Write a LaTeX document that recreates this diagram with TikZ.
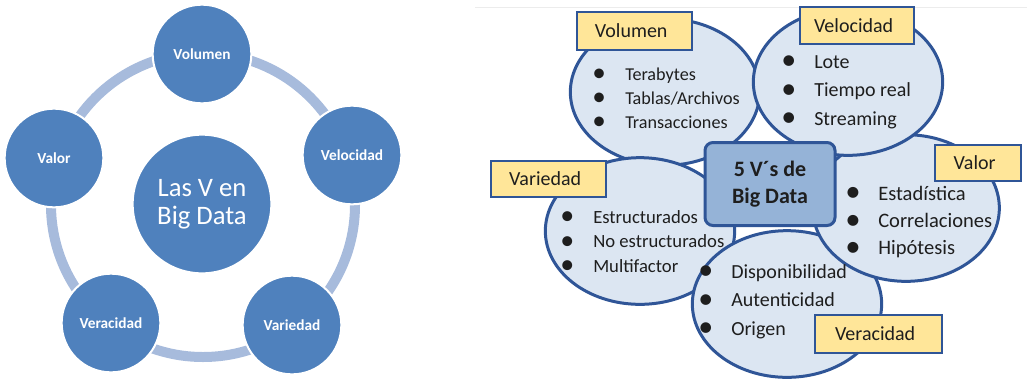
\documentclass[tikz,border=0pt]{standalone}
\usepackage{fontspec}
\setmainfont{Carlito}
\usepackage{graphicx}
\usepackage{tikz}
\usetikzlibrary{shapes,positioning}
\definecolor{vazul}{RGB}{79,129,189}
\definecolor{vanillo}{RGB}{167,187,220}
\definecolor{vborde}{RGB}{47,85,151}
\definecolor{vclaro}{RGB}{220,230,242}
\definecolor{vmedio}{RGB}{149,179,215}
\definecolor{vamarillo}{RGB}{255,230,153}
\definecolor{vtexto}{RGB}{30,30,30}
\tikzstyle{anillo} = [draw=vanillo, line width=7.5pt]
\tikzstyle{vcirculo} = [circle, minimum size=74pt, inner sep=0pt, fill=vazul, draw=white, line width=1.5pt, text=white, font=\bfseries\fontsize{11.5}{13}\selectfont]
\tikzstyle{vcentro} = [vcirculo, minimum size=104pt, align=center, font=\fontsize{20}{21}\selectfont]
\tikzstyle{burbuja} = [ellipse, minimum width=142pt, minimum height=110pt, inner sep=0pt, fill=vclaro, draw=vborde, line width=2.25pt]
\tikzstyle{caja} = [rectangle, rounded corners=6pt, minimum width=97.5pt, minimum height=62.25pt, align=center, fill=vmedio, draw=vborde, line width=2.25pt, text=vtexto, font=\bfseries\fontsize{16.5}{20}\selectfont]
\tikzstyle{etiqueta} = [rectangle, minimum height=27.75pt, inner sep=0pt, fill=vamarillo, draw=vborde, line width=1.5pt, text=vtexto, font=\fontsize{15}{17}\selectfont, execute at end node={\hspace*{5pt}}]
\tikzstyle{lista} = [anchor=base west, inner sep=0pt, text=vtexto]
\newcommand{\vineta}{\makebox[24.75pt][l]{\raisebox{-0.2ex}{\scalebox{1.5}{\textbullet}}}}

\begin{document}
\begin{tikzpicture}[x=0.75pt, y=-0.75pt]
\useasboundingbox (0,0) rectangle (1027,379);
% Ciclo de la izquierda
\draw[anillo] (203,205) circle [radius=114pt];
\node (centro) [vcentro] at (202,204) {Las V en\\Big Data};
\node (volumen) [vcirculo] at (202,54) {Volumen};
\node (velocidad) [vcirculo] at (352,155) {Velocidad};
\node (variedad) [vcirculo] at (292,325) {Variedad};
\node (veracidad) [vcirculo] at (111,323) {Veracidad};
\node (valor) [vcirculo] at (54,158) {Valor};

% Burbujas de la derecha
\draw[gray!15, line width=0.75pt] (475,7) -- (1027,7);
\node (bvol) [burbuja] at (665,92) {};
\node (bvar) [burbuja] at (640,231) {};
\node (bver) [burbuja] at (787,304) {};
\node (bval) [burbuja, minimum width=140pt] at (906,208) {};
\node (bvel) [burbuja] at (848,82) {};
\node (cinco) [caja] at (770,184) {5 V´s de\\Big Data};

% Etiquetas
\node (evol) [etiqueta, minimum width=86.25pt, minimum height=28.5pt] at (634.5,31) {Volumen};
\node (evel) [etiqueta, minimum width=85.5pt] at (857,25.5) {Velocidad};
\node (eval) [etiqueta, minimum width=64.5pt, minimum height=27pt] at (978,163) {Valor};
\node (evar) [etiqueta, minimum width=86.25pt, minimum height=27pt] at (548.5,179) {Variedad};
\node (ever) [etiqueta, minimum width=95.25pt, minimum height=28.5pt] at (878.5,334) {Veracidad};

% Listas
\node (lvol) [lista, font=\fontsize{13.6}{18}\selectfont] at (592,80) {\begin{tabular}[t]{@{}l@{}}\vineta Terabytes\\ \vineta Tablas/Archivos\\ \vineta Transacciones\end{tabular}};
\node (lvel) [lista, font=\fontsize{15}{21.4}\selectfont] at (781,68) {\begin{tabular}[t]{@{}l@{}}\vineta Lote\\ \vineta Tiempo real\\ \vineta Streaming\end{tabular}};
\node (lval) [lista, font=\fontsize{15.4}{20.6}\selectfont] at (845,200) {\begin{tabular}[t]{@{}l@{}}\vineta Estadística\\ \vineta Correlaciones\\ \vineta Hipótesis\end{tabular}};
\node (lvar) [lista, font=\fontsize{14}{18.4}\selectfont] at (560,223) {\begin{tabular}[t]{@{}l@{}}\vineta Estructurados\\ \vineta No estructurados\\ \vineta Multifactor\end{tabular}};
\node (lver) [lista, font=\fontsize{15}{21.4}\selectfont] at (698,278) {\begin{tabular}[t]{@{}l@{}}\vineta Disponibilidad\\ \vineta Autenticidad\\ \vineta Origen\end{tabular}};
\end{tikzpicture}
\end{document}
